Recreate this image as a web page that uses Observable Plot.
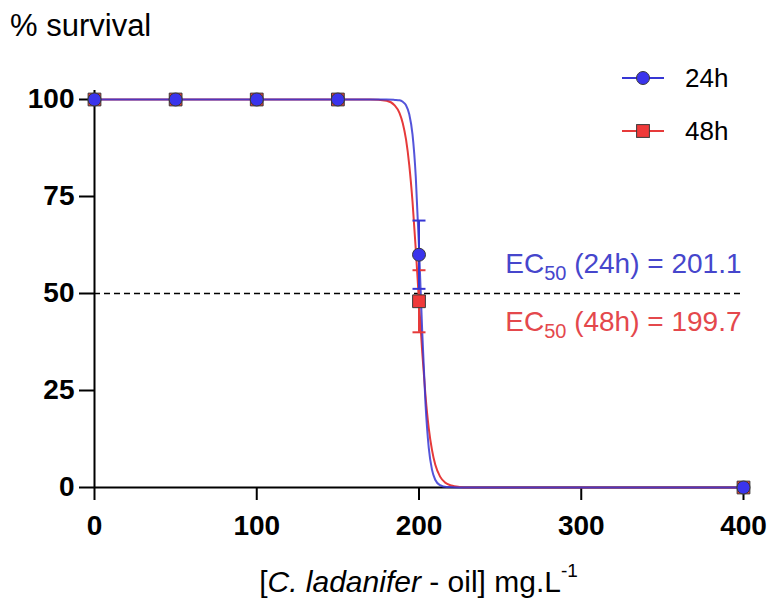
<!DOCTYPE html>
<html><head><meta charset="utf-8">
<script src="https://cdn.jsdelivr.net/npm/d3@7"></script>
<script src="https://cdn.jsdelivr.net/npm/@observablehq/plot@0.6"></script>
<style>
html,body{margin:0;padding:0;background:#fff;}
#fig{position:relative;width:771px;height:598px;overflow:hidden;font-family:"Liberation Sans",Arial,sans-serif;color:#000;}
#title{position:absolute;left:10px;top:11px;font-size:31px;line-height:30px;white-space:nowrap;}
#xlabel{position:absolute;left:94px;width:649px;top:567px;font-size:30px;line-height:30px;text-align:center;white-space:nowrap;}
#xlabel .sup{font-size:19px;position:relative;top:-15px;}
#chart{position:absolute;left:0;top:48px;}
.lg-row{position:absolute;left:620px;height:28px;display:flex;align-items:center;font-size:26px;white-space:nowrap;}
.lg-row span{margin-left:19px;}
g[aria-label="x-axis tick label"], g[aria-label="y-axis tick label"]{font-weight:bold;font-size:28px;}
</style>
</head><body>
<div id="fig">
  <div id="title">% survival</div>
  <div id="chart"></div>
  <div id="xlabel">[<i>C. ladanifer</i> - oil] mg.L<span class="sup">-1</span></div>
</div>
<script>
// ---- data ----
const conc = [0, 50, 100, 150, 200, 400];
const surv24 = [100, 100, 100, 100, 60, 0];
const sem24 = [0, 0, 0, 0, 8.8, 0];
const surv48 = [100, 100, 100, 100, 48, 0];
const sem48 = [0, 0, 0, 0, 8, 0];

// fitted dose-response curves
const fitX24 = [0, 150, 180, 185, 188, 190, 192, 194, 196, 198, 200, 202, 204, 206, 208, 210, 213, 217, 225, 400];
const fitY24 = [100, 100, 100, 99.9, 99.8, 99.4, 98.5, 96.2, 91, 80.2, 62, 40, 21.6, 10.3, 4.6, 2.0, 0.6, 0.1, 0, 0];
const fitX48 = [0, 150, 170, 180, 185, 188, 190, 192, 194, 196, 198, 200, 202, 204, 206, 208, 210, 213, 216, 220, 225, 230, 400];
const fitY48 = [100, 100, 100, 99.7, 98.5, 96.5, 93.9, 89.7, 83.1, 73.7, 61.5, 47.9, 34.8, 23.7, 15.3, 9.7, 5.9, 2.8, 1.3, 0.5, 0.14, 0, 0];

const xTicks = [0, 100, 200, 300, 400];
const yTicks = [0, 25, 50, 75, 100];
const seriesNames = ["24h", "48h"];
const ecValues = [201.1, 199.7];
const ecLevel = [50];

// ---- styling ----
const blueLine = "#3636d4", redLine = "#e63a3a";
const blueFill = "#3a34ec", redFill = "#f03a3a";
const blueText = "#4646cc", redText = "#e4484c";
const markStroke = "#3a3a3a";

const pts = (ys, es) => conc.map((x, i) => ({x, y: ys[i], lo: ys[i] - es[i], hi: ys[i] + es[i], e: es[i]}));
const pts24 = pts(surv24, sem24), pts48 = pts(surv48, sem48);
const err24 = pts24.filter(d => d.e > 0), err48 = pts48.filter(d => d.e > 0);
const caps = rows => rows.flatMap(d => [{x: d.x, y: d.lo}, {x: d.x, y: d.hi}]);
const fit24 = fitX24.map((x, i) => ({x, y: fitY24[i]}));
const fit48 = fitX48.map((x, i) => ({x, y: fitY48[i]}));
const capSymbol = {draw(ctx) { ctx.moveTo(-6.5, 0); ctx.lineTo(6.5, 0); }};

const axisFont = {fontSize: 28, fontWeight: "bold"};

const plot = Plot.plot({
  width: 771, height: 510,
  marginLeft: 94, marginRight: 28, marginTop: 51, marginBottom: 71,
  x: {domain: [0, 400], label: null},
  y: {domain: [0, 100], label: null},
  style: {fontFamily: "'Liberation Sans', Arial, sans-serif", background: "white", overflow: "visible"},
  marks: [
    Plot.axisX({ticks: xTicks, tickSize: 13, tickPadding: 15, strokeWidth: 2, stroke: "#000", label: null, ...axisFont}),
    Plot.axisY({ticks: yTicks, tickSize: 15, tickPadding: 5, strokeWidth: 2, stroke: "#000", label: null, ...axisFont}),
    Plot.ruleY([0], {stroke: "#000", strokeWidth: 2}),
    Plot.ruleX([0], {stroke: "#000", strokeWidth: 2, insetTop: -9}),
    Plot.ruleY(ecLevel, {stroke: "#000", strokeWidth: 1.5, strokeDasharray: "6,4"}),
    Plot.line(fit48, {x: "x", y: "y", stroke: redLine, strokeWidth: 2, curve: "monotone-x"}),
    Plot.line(fit24, {x: "x", y: "y", stroke: blueLine, strokeWidth: 2, strokeOpacity: 0.85, curve: "monotone-x"}),
    Plot.ruleX(err48, {x: "x", y1: "lo", y2: "hi", stroke: redLine, strokeWidth: 2}),
    Plot.dot(caps(err48), {x: "x", y: "y", symbol: capSymbol, stroke: redLine, strokeWidth: 2, fill: "none"}),
    Plot.ruleX(err24, {x: "x", y1: "lo", y2: "hi", stroke: blueLine, strokeWidth: 2}),
    Plot.dot(caps(err24), {x: "x", y: "y", symbol: capSymbol, stroke: blueLine, strokeWidth: 2, fill: "none"}),
    Plot.dot(pts48, {x: "x", y: "y", symbol: "square", r: 7.2, fill: redFill, stroke: markStroke, strokeWidth: 1}),
    Plot.dot(pts24, {x: "x", y: "y", symbol: "circle", r: 6.5, fill: blueFill, stroke: markStroke, strokeWidth: 1}),
    Plot.text(ecLevel, {y: d => d, frameAnchor: "right", text: () => `EC50 (${seriesNames[0]}) = ${ecValues[0]}`,
      textAnchor: "end", lineAnchor: "bottom", dx: -2, dy: -21, fill: blueText, fontSize: 28, className: "ec-text"}),
    Plot.text(ecLevel, {y: d => d, frameAnchor: "right", text: () => `EC50 (${seriesNames[1]}) = ${ecValues[1]}`,
      textAnchor: "end", lineAnchor: "bottom", dx: -2, dy: 37, fill: redText, fontSize: 28, className: "ec-text"})
  ]
});
document.getElementById("chart").appendChild(plot);

// subscript "50" in EC50 labels
d3.select(plot).selectAll("g.ec-text text").each(function () {
  const s = this.textContent;
  const rest = s.replace(/^EC50/, "");
  const t = d3.select(this);
  t.text(null);
  t.append("tspan").text("EC");
  t.append("tspan").attr("dy", 7).attr("font-size", 20).text("50");
  t.append("tspan").attr("dy", -7).text(rest);
});

// legend
const fig = document.getElementById("fig");
const legendTops = [64, 117];
seriesNames.forEach((name, i) => {
  const row = document.createElement("div");
  row.className = "lg-row";
  row.style.top = legendTops[i] + "px";
  const col = i === 0 ? blueLine : redLine;
  const fill = i === 0 ? blueFill : redFill;
  const marker = i === 0
    ? `<circle cx="23" cy="14" r="6.5" fill="${fill}" stroke="${markStroke}" stroke-width="1"/>`
    : `<rect x="16.6" y="7.6" width="12.8" height="12.8" fill="${fill}" stroke="${markStroke}" stroke-width="1"/>`;
  row.innerHTML = `<svg width="46" height="28"><line x1="2" x2="44" y1="14" y2="14" stroke="${col}" stroke-width="2"/>${marker}</svg><span>${name}</span>`;
  fig.appendChild(row);
});
</script>
</body></html>
